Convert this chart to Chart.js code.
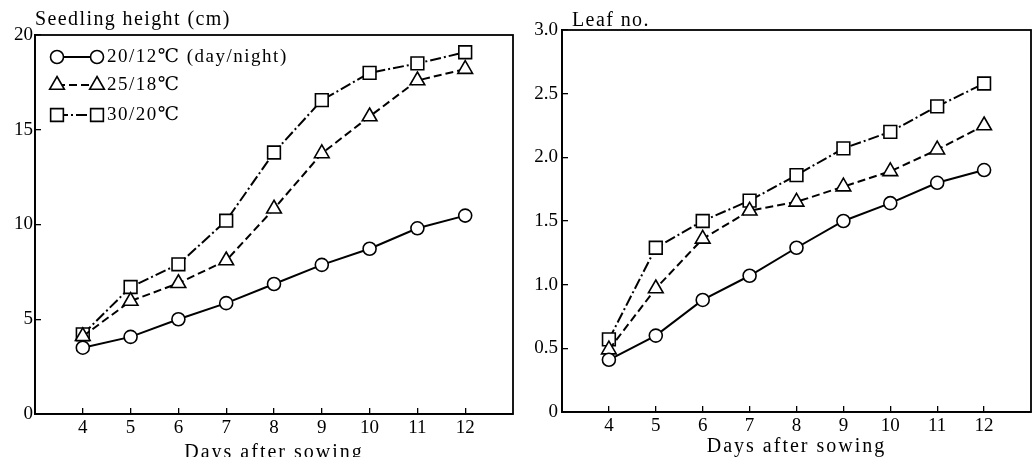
<!DOCTYPE html>
<html><head><meta charset="utf-8">
<script src="https://cdn.jsdelivr.net/npm/chart.js@4/dist/chart.umd.min.js"></script>
<style>
html,body{margin:0;padding:0;background:#fff;overflow:hidden;width:1035px;height:457px}
#c1{position:absolute;left:0;top:0}
#c2{position:absolute;left:520px;top:0}
</style></head><body>
<canvas id="c1" width="520" height="470"></canvas>
<canvas id="c2" width="515" height="470"></canvas>
<script>
const days = [4,5,6,7,8,9,10,11,12];
const seriesLabels = ['20/12℃ (day/night)', '25/18℃', '30/20℃'];
const height20 = [3.5,4.07,5.0,5.85,6.86,7.87,8.72,9.8,10.47];
const height25 = [4.1,5.96,6.9,8.1,10.83,13.75,15.7,17.6,18.2];
const height30 = [4.2,6.7,7.9,10.2,13.8,16.56,18.0,18.5,19.09];
const leaf20 = [0.41,0.60,0.88,1.07,1.29,1.50,1.64,1.80,1.90];
const leaf25 = [0.49,0.97,1.36,1.58,1.65,1.77,1.89,2.06,2.25];
const leaf30 = [0.57,1.29,1.50,1.66,1.86,2.07,2.20,2.40,2.58];
const heightTicks = [0,5,10,15,20];
const leafTicks = [0,0.5,1.0,1.5,2.0,2.5,3.0];
const xTitle = 'Days after sowing';

const FONT = "'Liberation Serif','Times New Roman','DejaVu Serif',serif";

const styles = [
  {pointStyle:'circle', pointRadius:6.5, borderDash:[]},
  {pointStyle:'triangle', pointRadius:8.5, borderDash:[8,4]},
  {pointStyle:'rect', pointRadius:9, borderDash:[11,3,2,3]}
];

function makeDatasets(arrs){
  return arrs.map((arr,i)=>({
    label: seriesLabels[i],
    data: days.map((d,j)=>({x:d, y:arr[j]})),
    borderColor:'#000', borderWidth:2, borderDash:styles[i].borderDash,
    pointStyle:styles[i].pointStyle, pointRadius:styles[i].pointRadius,
    pointBackgroundColor:'#fff', pointBorderColor:'#000', pointBorderWidth:1.6,
    tension:0, fill:false
  }));
}

function xScale(axisHeight){
  return {
    type:'linear', min:3, max:13,
    afterBuildTicks: s => { s.ticks = days.map(v=>({value:v})); },
    afterFit: s => { s.height = axisHeight; s.paddingLeft = 0; s.paddingRight = 0; },
    grid:{display:true, drawOnChartArea:false, drawTicks:true, tickLength:-6, color:'#000', lineWidth:1.3},
    border:{display:true, color:'#000', width:1.8},
    ticks:{color:'#000', padding:9, font:{family:FONT,size:19}, maxRotation:0, autoSkip:false, callback: v=>String(v)},
    title:{display:false}
  };
}
function yScale(tickVals, max, axisWidth, pad, fmt){
  return {
    type:'linear', min:0, max:max,
    afterBuildTicks: s => { s.ticks = tickVals.map(v=>({value:v})); },
    afterFit: s => { s.width = axisWidth; },
    grid:{display:true, drawOnChartArea:false, drawTicks:true, tickLength:-6, color:'#000', lineWidth:1.3},
    border:{display:true, color:'#000', width:1.8},
    ticks:{color:'#000', padding:pad, font:{family:FONT,size:19}, callback: fmt}
  };
}

const framePlugin = {
  id:'frame',
  afterDraw(chart, args, o){
    const {ctx, chartArea:a} = chart;
    ctx.save();
    ctx.strokeStyle='#000'; ctx.lineWidth=1.8;
    ctx.strokeRect(a.left, a.top, a.right-a.left, a.bottom-a.top);
    ctx.fillStyle='#000';
    ctx.textBaseline='middle'; ctx.textAlign='left';
    ctx.font = '20px ' + FONT;
    ctx.letterSpacing = '1.4px';
    ctx.fillText(o.title, a.left + o.titleDx, o.titleY);
    ctx.textAlign='center';
    ctx.letterSpacing = '2px';
    ctx.fillText(xTitle, (a.left + a.right)/2, o.xTitleY);
    ctx.textAlign='left';
    if (o.legend) {
      chart.data.datasets.forEach((ds,i)=>{
        const y = o.legendY[i];
        const x1 = a.left + 22, x2 = a.left + 62;
        ctx.save();
        ctx.strokeStyle='#000';
        ctx.lineWidth = ds.borderWidth; ctx.setLineDash(ds.borderDash||[]);
        ctx.beginPath(); ctx.moveTo(x1,y); ctx.lineTo(x2,y); ctx.stroke();
        ctx.restore();
        [x1,x2].forEach(x=>{
          ctx.save(); ctx.fillStyle='#fff'; ctx.strokeStyle='#000'; ctx.lineWidth=ds.pointBorderWidth;
          Chart.helpers.drawPoint(ctx,{pointStyle:ds.pointStyle, radius:ds.pointRadius, borderWidth:ds.pointBorderWidth, rotation:0}, x, y);
          ctx.restore();
        });
        ctx.fillStyle='#000';
        ctx.font='19px ' + FONT;
        ctx.letterSpacing = '1.5px';
        ctx.fillText(ds.label, x2 + 10, y);
      });
    }
    ctx.restore();
  }
};

new Chart(document.getElementById('c1'), {
  type:'line',
  data:{datasets: makeDatasets([height20, height25, height30])},
  options:{
    responsive:false, animation:false, devicePixelRatio:1,
    layout:{autoPadding:false, padding:{top:35, right:7, left:0, bottom:0}},
    plugins:{legend:{display:false}, tooltip:{enabled:false},
      frame:{title:'Seedling height (cm)', titleDx:0, titleY:20, xTitleY:453, legend:true, legendY:[57,85,115]}},
    scales:{
      x: xScale(56),
      y: yScale(heightTicks, 20, 35, 8, v=>String(v))
    }
  },
  plugins:[framePlugin]
});

new Chart(document.getElementById('c2'), {
  type:'line',
  data:{datasets: makeDatasets([leaf20, leaf25, leaf30])},
  options:{
    responsive:false, animation:false, devicePixelRatio:1,
    layout:{autoPadding:false, padding:{top:30, right:4, left:0, bottom:0}},
    plugins:{legend:{display:false}, tooltip:{enabled:false},
      frame:{title:'Leaf no.', titleDx:10, titleY:21, xTitleY:447, legend:false}},
    scales:{
      x: xScale(58),
      y: yScale(leafTicks, 3, 42, 10, v=> v===0 ? '0' : v.toFixed(1))
    }
  },
  plugins:[framePlugin]
});
</script>
</body></html>
